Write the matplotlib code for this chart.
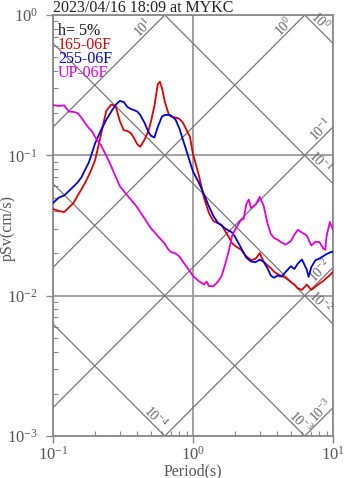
import numpy as np
import matplotlib
matplotlib.use('Agg')
import matplotlib.pyplot as plt
from matplotlib import transforms
from matplotlib.ticker import LogLocator, NullFormatter

plt.rcParams['font.family'] = ['Liberation Serif', 'DejaVu Serif']
plt.rcParams['mathtext.fontset'] = 'custom'
plt.rcParams['mathtext.rm'] = 'Liberation Serif'
plt.rcParams['mathtext.it'] = 'Liberation Serif:italic'
plt.rcParams['mathtext.bf'] = 'Liberation Serif:bold'

# ---------------- data ----------------
title = "2023/04/16 18:09 at MYKC"
damping_label = "h= 5%"
series_names = ["165-06F", "255-06F", "UP-06F"]
series_colors = ["#dd0000", "#0000dd", "#dd00dd"]

period_165 = [0.10, 0.11, 0.12, 0.13, 0.14, 0.15, 0.16, 0.17, 0.18, 0.19, 0.20,
              0.22, 0.24, 0.26, 0.28, 0.30, 0.32, 0.34, 0.36, 0.38, 0.40, 0.42,
              0.45, 0.48, 0.50, 0.53, 0.56, 0.58, 0.60, 0.63, 0.67, 0.70, 0.75, 0.80, 0.85, 0.90, 0.95,
              1.0, 1.1, 1.2, 1.3, 1.4, 1.5, 1.6, 1.7, 1.8, 1.9, 2.0,
              2.2, 2.4, 2.6, 2.8, 3.0, 3.2, 3.4, 3.6, 3.8, 4.0,
              4.3, 4.6, 5.0, 5.3, 5.6, 6.0, 6.5, 7.0, 7.5, 8.0, 8.5, 9.0, 9.5, 10.0]
sv_165 = [0.0415, 0.0401, 0.0394, 0.0425, 0.0457, 0.0517, 0.0575, 0.064, 0.0718, 0.0812, 0.0926,
          0.140, 0.207, 0.230, 0.225, 0.176, 0.151, 0.149, 0.144, 0.132, 0.120, 0.115,
          0.129, 0.149, 0.173, 0.225, 0.320, 0.335, 0.302, 0.240, 0.197, 0.189, 0.186, 0.182, 0.170, 0.151, 0.136,
          0.102, 0.0724, 0.0496, 0.0388, 0.0340, 0.0329, 0.0319, 0.0288, 0.0262, 0.0237, 0.0226,
          0.0213, 0.0191, 0.0179, 0.0183, 0.0201, 0.0174, 0.0165, 0.0157, 0.0148, 0.0143,
          0.0138, 0.0134, 0.0125, 0.0120, 0.0113, 0.0110, 0.0120, 0.0110, 0.0116, 0.0122, 0.0127, 0.0134, 0.0140, 0.0148]

period_255 = [0.10, 0.11, 0.12, 0.13, 0.14, 0.15, 0.16, 0.17, 0.18, 0.19, 0.20,
              0.22, 0.24, 0.26, 0.28, 0.30, 0.32, 0.34, 0.36, 0.38, 0.40, 0.42,
              0.45, 0.48, 0.50, 0.53, 0.56, 0.60, 0.63, 0.67, 0.70, 0.75, 0.80, 0.85, 0.90, 0.95,
              1.0, 1.1, 1.2, 1.3, 1.4, 1.5, 1.6, 1.7, 1.8, 1.9, 2.0,
              2.2, 2.4, 2.6, 2.8, 3.0, 3.2, 3.4, 3.6, 3.8, 4.0,
              4.3, 4.6, 5.0, 5.3, 5.6, 6.0, 6.5, 6.7, 7.0, 7.5, 8.0, 8.5, 9.0, 9.5, 10.0]
sv_255 = [0.0457, 0.050, 0.0517, 0.0557, 0.0599, 0.0642, 0.070, 0.0794, 0.0887, 0.104, 0.122,
          0.151, 0.179, 0.204, 0.229, 0.244, 0.240, 0.221, 0.214, 0.210, 0.205, 0.194,
          0.171, 0.147, 0.138, 0.134, 0.159, 0.189, 0.194, 0.194, 0.191, 0.180, 0.155, 0.128, 0.107, 0.090,
          0.0767, 0.064, 0.0526, 0.0432, 0.0369, 0.0332, 0.0316, 0.0301, 0.0291, 0.0282, 0.0262,
          0.022, 0.0187, 0.0175, 0.0173, 0.0181, 0.0174, 0.0157, 0.0139, 0.0134, 0.0139,
          0.0137, 0.0148, 0.0162, 0.0155, 0.0169, 0.0181, 0.0153, 0.0136, 0.016, 0.0179, 0.0184, 0.0191, 0.0198, 0.0203, 0.0206]

period_up = [0.10, 0.11, 0.12, 0.13, 0.14, 0.15, 0.16, 0.17, 0.18, 0.19, 0.20,
             0.22, 0.24, 0.26, 0.28, 0.30, 0.32, 0.34, 0.36, 0.38, 0.40, 0.42,
             0.45, 0.48, 0.50, 0.53, 0.56, 0.60, 0.63, 0.67, 0.70, 0.75, 0.80, 0.85, 0.90, 0.95,
             1.0, 1.1, 1.2, 1.25, 1.3, 1.4, 1.5, 1.6, 1.7, 1.8, 1.9, 2.0,
             2.2, 2.3, 2.4, 2.5, 2.6, 2.8, 3.0, 3.2, 3.4, 3.6, 3.8, 4.0,
             4.3, 4.6, 5.0, 5.3, 5.6, 6.0, 6.5, 7.0, 7.5, 8.0, 8.5, 8.8, 9.0, 9.5, 10.0]
sv_up = [0.228, 0.225, 0.227, 0.205, 0.204, 0.200, 0.185, 0.169, 0.157, 0.148, 0.135,
         0.118, 0.0997, 0.0839, 0.0706, 0.0604, 0.0557, 0.0517, 0.0484, 0.0454, 0.0425, 0.0394,
         0.0356, 0.0322, 0.0303, 0.0284, 0.0266, 0.0247, 0.0233, 0.0212, 0.0204, 0.0200, 0.0190, 0.0174, 0.0161, 0.0149,
         0.0138, 0.0127, 0.0120, 0.0126, 0.0117, 0.0117, 0.0125, 0.0138, 0.0168, 0.0208, 0.0266, 0.0296,
         0.0346, 0.0352, 0.0446, 0.0484, 0.0421, 0.0446, 0.0505, 0.0435, 0.0329, 0.0275, 0.0257, 0.0251,
         0.0239, 0.0231, 0.0245, 0.0272, 0.0294, 0.0282, 0.0268, 0.0228, 0.0242, 0.0241, 0.0218, 0.0212, 0.0266, 0.0335, 0.0294]

# tripartite reference lines: displacement (cm) and acceleration (cm/s^2)
disp_levels = [1e0, 1e-1, 1e-2, 1e-3, 1e-4]
disp_label_T = [8.1, 8.1, 8.1, 5.8, 0.54]
acc_levels = [1e1, 1e0, 1e-1, 1e-2, 1e-3]
acc_label_T = [0.44, 4.47, 8.2, 8.1, 8.2]

# ---------------- figure ----------------
W, H = 347, 478
fig = plt.figure(figsize=(W / 100, H / 100), dpi=100)
ax = fig.add_axes([53 / W, 1 - 436 / H, 280 / W, 421 / H])
ax.set_xscale('log')
ax.set_yscale('log')
ax.set_xlim(0.1, 10)
ax.set_ylim(1e-3, 1)

grey = '#8a8a8a'
ax.grid(True, which='major', color='#9a9a9a', lw=1.3, zorder=1)

tline = np.logspace(-1, 1, 200)
for d in disp_levels:
    ax.plot(tline, 2 * np.pi * d / tline, color='#767676', lw=0.9, zorder=2)
for a in acc_levels:
    ax.plot(tline, a * tline / (2 * np.pi), color='#767676', lw=0.9, zorder=2)

off = transforms.offset_copy(ax.transData, fig=fig, x=0, y=9, units='dots')
for d, t in zip(disp_levels, disp_label_T):
    e = int(round(np.log10(d)))
    ax.text(t, 2 * np.pi * d / t, r'$10^{%d}$' % e, transform=off, rotation=-45,
            rotation_mode='anchor', ha='center', va='center', fontsize=10, color='#666666', zorder=3)
for a, t in zip(acc_levels, acc_label_T):
    e = int(round(np.log10(a)))
    ax.text(t, a * t / (2 * np.pi), r'$10^{%d}$' % e, transform=off, rotation=45,
            rotation_mode='anchor', ha='center', va='center', fontsize=10, color='#666666', zorder=3)

for (p, s), c in zip([(period_165, sv_165), (period_255, sv_255), (period_up, sv_up)], series_colors):
    ax.plot(p, s, color=c, lw=1.3, zorder=5)

for sp in ax.spines.values():
    sp.set_color(grey)
    sp.set_linewidth(1.3)

ax.xaxis.set_minor_locator(LogLocator(base=10, subs=np.arange(2, 10)))
ax.yaxis.set_minor_locator(LogLocator(base=10, subs=np.arange(2, 10)))
ax.xaxis.set_minor_formatter(NullFormatter())
ax.yaxis.set_minor_formatter(NullFormatter())
ax.tick_params(which='major', direction='out', length=5, width=1, color=grey,
               labelcolor='#555555', labelsize=12, top=False, right=False)
ax.tick_params(axis='x', which='major', pad=2)
ax.tick_params(axis='y', which='major', pad=6)
ax.tick_params(which='minor', direction='in', length=3.5, width=0.8, color=grey,
               top=False, right=False)

fig.text(53 / W, 1 - 11.5 / H, title, ha='left', va='baseline', fontsize=11.5, color='#222222')
fig.text(193 / W, 1 - 471 / H, 'Period(s)', ha='center', va='center', fontsize=11.5, color='#555555')
fig.text(8 / W, 1 - 228 / H, 'pSv(cm/s)', rotation=90, ha='center', va='center', fontsize=11.5, color='#555555')

fig.text(58 / W, 1 - 35 / H, damping_label, ha='left', va='baseline', fontsize=11.5, color='#111111')
for i, (n, c) in enumerate(zip(series_names, series_colors)):
    fig.text(58 / W, 1 - (49.3 + 14 * i) / H, n, ha='left', va='baseline', fontsize=11.5, color=c)

fig.savefig('out.png', dpi=100)
